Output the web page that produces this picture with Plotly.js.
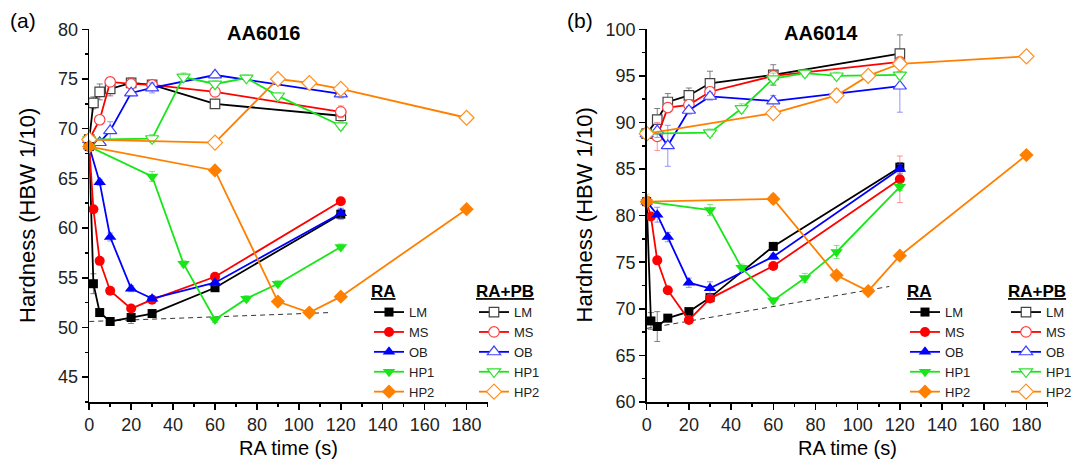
<!DOCTYPE html>
<html>
<head>
<meta charset="utf-8">
<script src="https://cdn.plot.ly/plotly-3.0.1.min.js"></script>
<style>html,body{margin:0;padding:0;background:#fff;}#chart{width:1077px;height:462px;}</style>
</head>
<body>
<div id="chart"></div>
<script>
// ---------- Data ----------
const seriesNames = ["LM", "MS", "OB", "HP1", "HP2"];

// AA6016 (panel a) - RA
const a_RA_LM_x = [0, 2, 5, 10, 20, 30, 60, 120];
const a_RA_LM_y = [68.2, 54.4, 51.5, 50.6, 51.0, 51.4, 54.0, 61.4];
const a_RA_LM_e = [0.3, 1.0, 0.3, 0.3, 0.6, 0.3, 0.3, 0.5];
const a_RA_MS_x = [0, 2, 5, 10, 20, 30, 60, 120];
const a_RA_MS_y = [68.2, 61.9, 56.7, 53.7, 51.9, 52.8, 55.1, 62.7];
const a_RA_MS_e = [0.3, 0.3, 0.3, 0.3, 0.3, 0.3, 0.3, 0.3];
const a_RA_OB_x = [0, 5, 10, 20, 30, 60, 120];
const a_RA_OB_y = [68.2, 64.6, 59.1, 53.9, 52.9, 54.5, 61.5];
const a_RA_OB_e = [0.3, 0.3, 0.4, 0.3, 0.3, 0.3, 0.5];
const a_RA_HP1_x = [0, 30, 45, 60, 75, 90, 120];
const a_RA_HP1_y = [68.2, 65.2, 56.4, 50.8, 52.9, 54.4, 58.1];
const a_RA_HP1_e = [0.3, 0.5, 0.3, 0.3, 0.3, 0.3, 0.3];
const a_RA_HP2_x = [0, 60, 90, 105, 120, 180];
const a_RA_HP2_y = [68.2, 65.8, 52.6, 51.5, 53.1, 61.9];
const a_RA_HP2_e = [0.4, 0.3, 0.3, 0.3, 0.3, 0.3];

// AA6016 (panel a) - RA+PB
const a_PB_LM_x = [0, 2, 5, 10, 20, 30, 60, 120];
const a_PB_LM_y = [68.9, 72.6, 73.7, 74.0, 74.6, 74.4, 72.5, 71.3];
const a_PB_LM_e = [0.3, 0.6, 0.8, 0.7, 0.5, 0.3, 0.4, 0.5];
const a_PB_MS_x = [0, 5, 10, 20, 30, 60, 120];
const a_PB_MS_y = [68.9, 70.9, 74.7, 74.5, 74.4, 73.7, 71.7];
const a_PB_MS_e = [0.3, 0.3, 0.3, 0.3, 0.3, 0.3, 0.6];
const a_PB_OB_x = [0, 5, 10, 20, 30, 60, 120];
const a_PB_OB_y = [68.9, 68.6, 69.8, 73.6, 74.1, 75.4, 73.5];
const a_PB_OB_e = [0.3, 0.3, 0.9, 0.3, 0.5, 0.3, 0.4];
const a_PB_HP1_x = [0, 30, 45, 60, 75, 90, 120];
const a_PB_HP1_y = [68.9, 69.0, 75.2, 74.5, 75.1, 73.3, 70.3];
const a_PB_HP1_e = [0.3, 0.4, 0.4, 0.3, 0.3, 0.3, 0.4];
const a_PB_HP2_x = [0, 60, 90, 105, 120, 180];
const a_PB_HP2_y = [68.9, 68.6, 75.0, 74.6, 74.0, 71.1];
const a_PB_HP2_e = [0.3, 0.3, 0.4, 0.3, 0.3, 0.3];

// AA6014 (panel b) - RA
const b_RA_LM_x = [0, 2, 5, 10, 20, 30, 60, 120];
const b_RA_LM_y = [81.5, 68.7, 68.1, 69.0, 69.7, 71.2, 76.7, 85.2];
const b_RA_LM_e = [0.5, 0.9, 1.6, 0.3, 0.3, 0.3, 0.3, 0.5];
const b_RA_MS_x = [0, 2, 5, 10, 20, 30, 60, 120];
const b_RA_MS_y = [81.5, 79.9, 75.2, 72.0, 68.8, 71.1, 74.6, 83.9];
const b_RA_MS_e = [0.5, 0.3, 0.4, 0.3, 0.3, 0.3, 0.3, 2.5];
const b_RA_OB_x = [0, 5, 10, 20, 30, 60, 120];
const b_RA_OB_y = [81.5, 80.1, 77.7, 72.8, 72.2, 75.6, 85.0];
const b_RA_OB_e = [0.5, 0.8, 0.5, 0.5, 0.7, 0.3, 0.5];
const b_RA_HP1_x = [0, 30, 45, 60, 75, 90, 120];
const b_RA_HP1_y = [81.5, 80.6, 74.4, 70.9, 73.3, 76.1, 83.1];
const b_RA_HP1_e = [0.5, 0.6, 0.4, 0.3, 0.5, 0.7, 0.4];
const b_RA_HP2_x = [0, 60, 90, 105, 120, 180];
const b_RA_HP2_y = [81.5, 81.8, 73.6, 71.9, 75.7, 86.5];
const b_RA_HP2_e = [0.8, 0.5, 0.3, 0.3, 0.3, 0.3];

// AA6014 (panel b) - RA+PB
const b_PB_LM_x = [0, 5, 10, 20, 30, 60, 120];
const b_PB_LM_y = [88.8, 90.3, 92.2, 92.9, 94.2, 95.1, 97.4];
const b_PB_LM_e = [0.5, 1.2, 0.9, 0.8, 1.3, 1.1, 2.0];
const b_PB_MS_x = [0, 5, 10, 20, 30, 60, 120];
const b_PB_MS_y = [88.8, 88.5, 91.6, 91.9, 93.3, 95.0, 96.5];
const b_PB_MS_e = [0.5, 1.5, 0.5, 0.5, 0.5, 0.5, 0.5];
const b_PB_OB_x = [0, 5, 10, 20, 30, 60, 120];
const b_PB_OB_y = [88.8, 89.1, 87.5, 91.3, 92.8, 92.3, 93.9];
const b_PB_OB_e = [0.5, 0.7, 2.2, 0.4, 0.4, 0.6, 2.8];
const b_PB_HP1_x = [0, 30, 45, 60, 75, 90, 120];
const b_PB_HP1_y = [88.8, 88.9, 91.5, 94.7, 95.3, 95.0, 95.1];
const b_PB_HP1_e = [0.4, 0.4, 0.5, 0.6, 0.4, 0.4, 0.4];
const b_PB_HP2_x = [0, 60, 90, 105, 120, 180];
const b_PB_HP2_y = [88.8, 91.0, 92.9, 95.0, 96.3, 97.1];
const b_PB_HP2_e = [0.5, 0.4, 0.7, 0.4, 0.4, 0.4];

// dashed guide lines
const a_guide_x = [0, 115];
const a_guide_y = [50.6, 51.5];
const b_guide_x = [0, 115];
const b_guide_y = [67.9, 72.4];

// tick values
const xTicks = [0, 20, 40, 60, 80, 100, 120, 140, 160, 180];
const aYTicks = [45, 50, 55, 60, 65, 70, 75, 80];
const bYTicks = [60, 65, 70, 75, 80, 85, 90, 95, 100];

// ---------- Styles ----------
const colors = {LM: "#000000", MS: "#FF0000", OB: "#0000FF", HP1: "#19E619", HP2: "#FF8000"};
const errColors = {LM: "rgba(90,90,90,0.75)", MS: "rgba(255,80,80,0.6)", OB: "rgba(80,80,255,0.6)", HP1: "rgba(40,220,40,0.6)", HP2: "rgba(255,140,40,0.6)"};
const filledSym = {LM: "square", MS: "circle", OB: "triangle-up", HP1: "triangle-down", HP2: "diamond"};
const filledSize = {LM: 9, MS: 10, OB: 11, HP1: 11, HP2: 11};
const openColors = {LM: "#444444", MS: "#FF4040", OB: "#4040FF", HP1: "#30E030", HP2: "#FF9020"};

function mk(name, x, y, e, open, xa, ya, legend) {
  const c = colors[name];
  const marker = open
    ? {symbol: filledSym[name], size: filledSize[name] + 0.5, color: "#ffffff", line: {color: openColors[name], width: 1.2}}
    : {symbol: filledSym[name], size: filledSize[name], color: c, line: {width: 0}};
  return {
    type: "scatter", mode: "lines+markers", name: name,
    x: x, y: y, xaxis: xa, yaxis: ya, legend: legend,
    line: {color: c, width: 1.8},
    marker: marker,
    error_y: {type: "data", array: e, visible: true, color: errColors[name], thickness: 1, width: 3},
    cliponaxis: false
  };
}

const data = [];
const groups = [
  {p: "a", xa: "x", ya: "y", lgRA: "legend", lgPB: "legend2"},
  {p: "b", xa: "x2", ya: "y2", lgRA: "legend3", lgPB: "legend4"}
];
const D = {
  a_RA_LM: [a_RA_LM_x, a_RA_LM_y, a_RA_LM_e], a_RA_MS: [a_RA_MS_x, a_RA_MS_y, a_RA_MS_e],
  a_RA_OB: [a_RA_OB_x, a_RA_OB_y, a_RA_OB_e], a_RA_HP1: [a_RA_HP1_x, a_RA_HP1_y, a_RA_HP1_e],
  a_RA_HP2: [a_RA_HP2_x, a_RA_HP2_y, a_RA_HP2_e],
  a_PB_LM: [a_PB_LM_x, a_PB_LM_y, a_PB_LM_e], a_PB_MS: [a_PB_MS_x, a_PB_MS_y, a_PB_MS_e],
  a_PB_OB: [a_PB_OB_x, a_PB_OB_y, a_PB_OB_e], a_PB_HP1: [a_PB_HP1_x, a_PB_HP1_y, a_PB_HP1_e],
  a_PB_HP2: [a_PB_HP2_x, a_PB_HP2_y, a_PB_HP2_e],
  b_RA_LM: [b_RA_LM_x, b_RA_LM_y, b_RA_LM_e], b_RA_MS: [b_RA_MS_x, b_RA_MS_y, b_RA_MS_e],
  b_RA_OB: [b_RA_OB_x, b_RA_OB_y, b_RA_OB_e], b_RA_HP1: [b_RA_HP1_x, b_RA_HP1_y, b_RA_HP1_e],
  b_RA_HP2: [b_RA_HP2_x, b_RA_HP2_y, b_RA_HP2_e],
  b_PB_LM: [b_PB_LM_x, b_PB_LM_y, b_PB_LM_e], b_PB_MS: [b_PB_MS_x, b_PB_MS_y, b_PB_MS_e],
  b_PB_OB: [b_PB_OB_x, b_PB_OB_y, b_PB_OB_e], b_PB_HP1: [b_PB_HP1_x, b_PB_HP1_y, b_PB_HP1_e],
  b_PB_HP2: [b_PB_HP2_x, b_PB_HP2_y, b_PB_HP2_e]
};

// guide lines first (drawn beneath)
data.push({type: "scatter", mode: "lines", x: a_guide_x, y: a_guide_y, xaxis: "x", yaxis: "y",
  line: {color: "#333", width: 1, dash: "5px,4px"}, showlegend: false, hoverinfo: "skip"});
data.push({type: "scatter", mode: "lines", x: b_guide_x, y: b_guide_y, xaxis: "x2", yaxis: "y2",
  line: {color: "#333", width: 1, dash: "5px,4px"}, showlegend: false, hoverinfo: "skip"});

groups.forEach(g => {
  // RA+PB first so RA sits on top
  seriesNames.forEach(n => {
    const d = D[g.p + "_PB_" + n];
    data.push(mk(n, d[0], d[1], d[2], true, g.xa, g.ya, g.lgPB));
  });
  seriesNames.forEach(n => {
    const d = D[g.p + "_RA_" + n];
    data.push(mk(n, d[0], d[1], d[2], false, g.xa, g.ya, g.lgRA));
  });
});

// ---------- Layout ----------
const W = 1077, H = 462;
const px = v => v / W, py = v => 1 - v / H;
const FONT = "Liberation Sans, Arial, sans-serif";

function xAxis(dom, anchor) {
  return {
    domain: dom, anchor: anchor, range: [0, 190], tickvals: xTicks, ticks: "outside", ticklen: 6,
    tickwidth: 1.5, tickcolor: "#000", showline: true, linecolor: "#000", linewidth: 1.5,
    showgrid: false, zeroline: false, tickfont: {size: 18, color: "#222"},
    minor: {dtick: 10, tick0: 0, ticks: "outside", ticklen: 3, tickwidth: 1.5, tickcolor: "#000", showgrid: false}
  };
}
function yAxis(dom, anchor, range, tv) {
  return {
    domain: dom, anchor: anchor, range: range, tickvals: tv, ticks: "outside", ticklen: 6,
    tickwidth: 1.5, tickcolor: "#000", showline: true, linecolor: "#000", linewidth: 1.5,
    showgrid: false, zeroline: false, tickfont: {size: 18, color: "#222"},
    minor: {dtick: 2.5, tick0: 0, ticks: "outside", ticklen: 3, tickwidth: 1.5, tickcolor: "#000", showgrid: false}
  };
}
const yDom = [1 - 402 / H, 1 - 29.3 / H];

function leg(xpx, title) {
  return {
    x: px(xpx), y: py(275), xanchor: "left", yanchor: "top",
    title: {text: "<b><u>" + title + "</u></b>", font: {size: 17, color: "#000"}},
    font: {size: 13, color: "#222"}, bgcolor: "rgba(0,0,0,0)", borderwidth: 0,
    traceorder: "normal", itemwidth: 30, tracegroupgap: 0
  };
}

function ann(text, x, y, size, angle) {
  return {text: text, x: px(x), y: py(y), xref: "paper", yref: "paper", showarrow: false,
    xanchor: "center", yanchor: "middle", textangle: angle || 0, font: {size: size, color: "#000"}};
}

const layout = {
  width: W, height: H,
  margin: {l: 0, r: 0, t: 0, b: 0},
  paper_bgcolor: "#fff", plot_bgcolor: "#fff",
  font: {family: FONT, color: "#000"},
  showlegend: true,
  xaxis: xAxis([px(89.3), px(488)], "y"),
  yaxis: yAxis(yDom, "x", [42.5, 80], aYTicks),
  xaxis2: xAxis([px(647.3), px(1048.5)], "y2"),
  yaxis2: yAxis(yDom, "x2", [60, 100], bYTicks),
  legend: leg(369, "RA"),
  legend2: leg(474, "RA+PB"),
  legend3: leg(905, "RA"),
  legend4: leg(1007, "RA+PB"),
  annotations: [
    ann("<b>AA6016</b>", 264, 33, 20),
    ann("<b>AA6014</b>", 822, 33, 20),
    ann("(a)", 23, 21, 21),
    ann("(b)", 581, 21, 21),
    ann("Hardness (HBW 1/10)", 27, 215, 22, -90),
    ann("Hardness (HBW 1/10)", 585, 215, 22, -90),
    ann("RA time (s)", 289, 448, 20),
    ann("RA time (s)", 848, 448, 20)
  ]
};

Plotly.newPlot("chart", data, layout, {staticPlot: true, displayModeBar: false});
</script>
</body>
</html>
